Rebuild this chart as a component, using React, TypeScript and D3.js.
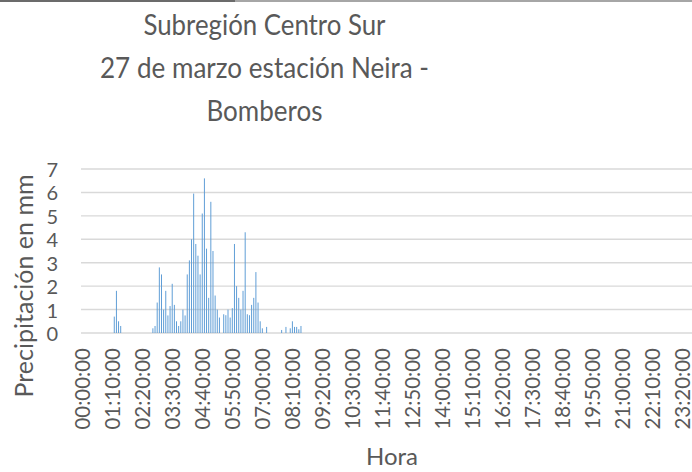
import React from "react";
import * as d3 from "d3";

const titleLines = ["Subregión Centro Sur", "27 de marzo estación Neira -", "Bomberos"];
const titleWidths = [242, 329, 116];
const yTicks = [0, 1, 2, 3, 4, 5, 6, 7];
const yAxisTitle = "Precipitación en mm";
const xAxisTitle = "Hora";

// every 5-minute category of the day
const pad = (n: number) => String(n).padStart(2, "0");
const categories: string[] = d3.range(0, 24 * 60, 5).map(
  (m) => `${pad(Math.floor(m / 60))}:${pad(m % 60)}:00`
);
const tickLabels = [
  "00:00:00", "01:10:00", "02:20:00", "03:30:00", "04:40:00", "05:50:00", "07:00:00",
  "08:10:00", "09:20:00", "10:30:00", "11:40:00", "12:50:00", "14:00:00", "15:10:00",
  "16:20:00", "17:30:00", "18:40:00", "19:50:00", "21:00:00", "22:10:00", "23:20:00",
];

// readings (mm) at times with rain; all other categories are 0
const rainTimes = [
  "01:15:00", "01:20:00", "01:25:00", "01:30:00",
  "02:45:00", "02:50:00", "02:55:00", "03:00:00", "03:05:00", "03:10:00", "03:15:00",
  "03:20:00", "03:25:00", "03:30:00", "03:35:00", "03:40:00", "03:45:00", "03:50:00",
  "03:55:00", "04:00:00", "04:05:00", "04:10:00", "04:15:00", "04:20:00", "04:25:00",
  "04:30:00", "04:35:00", "04:40:00", "04:45:00", "04:50:00", "04:55:00", "05:00:00",
  "05:05:00", "05:10:00", "05:15:00", "05:20:00", "05:30:00", "05:35:00", "05:40:00",
  "05:45:00", "05:50:00", "05:55:00", "06:00:00", "06:05:00", "06:10:00", "06:15:00",
  "06:20:00", "06:25:00", "06:30:00", "06:35:00", "06:40:00", "06:45:00", "06:50:00",
  "06:55:00", "07:00:00", "07:10:00", "07:45:00", "07:55:00", "08:05:00", "08:10:00",
  "08:15:00", "08:20:00", "08:25:00", "08:30:00",
];
const rainValues = [
  0.7, 1.8, 0.5, 0.3,
  0.2, 0.3, 1.3, 2.8, 2.5, 1.0, 1.8,
  0.75, 1.15, 2.1, 1.2, 0.5, 0.3, 0.5,
  1.0, 0.75, 2.5, 3.1, 4.0, 5.95, 3.8,
  3.3, 2.5, 5.1, 6.6, 3.6, 1.5, 5.6,
  3.5, 1.6, 1.0, 0.66, 0.8, 0.76, 1.0,
  0.66, 1.06, 3.8, 2.0, 1.5, 1.0, 1.8,
  4.3, 0.8, 0.76, 1.2, 1.5, 2.6, 1.3,
  0.5, 0.2, 0.26, 0.13, 0.26, 0.2, 0.5,
  0.26, 0.26, 0.16, 0.3,
];

const W = 692;
const H = 472;
const plotLeft = 81;
const step = 2.146;
const y0 = 333;
const y7 = 169;
const textColor = "#595959";
const font = "Lato, 'Open Sans', sans-serif";

export default function App() {
  const x = d3
    .scaleBand<string>()
    .domain(categories)
    .range([plotLeft, plotLeft + categories.length * step])
    .paddingInner(0.55)
    .paddingOuter(0.275);
  const y = d3.scaleLinear().domain([0, 7]).range([y0, y7]);
  const center = (t: string) => (x(t) as number) + x.bandwidth() / 2;

  return (
    <svg width={W} height={H} style={{ display: "block", background: "#fff" }}>
      <style>{`body{margin:0}`}</style>
      <line x1={0} x2={235} y1={1} y2={1} stroke="#6b6b6b" strokeWidth={2} />
      <line x1={235} x2={W} y1={1} y2={1} stroke="#a6a6a6" strokeWidth={2} />
      {titleLines.map((t, i) => (
        <text
          key={t}
          x={264.5}
          y={35 + i * 43}
          textAnchor="middle"
          fontFamily={font}
          fontSize={28}
          fill={textColor}
          textLength={titleWidths[i]}
          lengthAdjust="spacingAndGlyphs"
        >
          {t}
        </text>
      ))}
      {yTicks.map((v) => (
        <g key={v}>
          <line x1={plotLeft} x2={W + 20} y1={y(v)} y2={y(v)} stroke="#d9d9d9" strokeWidth={1.4} />
          <text
            x={58}
            y={y(v)}
            textAnchor="end"
            dominantBaseline="central"
            fontFamily={font}
            fontSize={20}
            fill={textColor}
          >
            {v}
          </text>
        </g>
      ))}
      {rainTimes.map((t, i) => (
        <rect
          key={t}
          x={x(t)}
          y={y(rainValues[i])}
          width={x.bandwidth()}
          height={y0 - y(rainValues[i])}
          fill="#5b9bd5"
        />
      ))}
      {tickLabels.map((t) => (
        <text
          key={t}
          transform={`translate(${center(t) - 0.5},348) rotate(-90)`}
          textAnchor="end"
          dominantBaseline="central"
          fontFamily={font}
          fontSize={20.5}
          fill={textColor}
        >
          {t}
        </text>
      ))}
      <text
        transform={`translate(23,286) rotate(-90)`}
        textAnchor="middle"
        dominantBaseline="central"
        fontFamily={font}
        fontSize={25}
        fill={textColor}
      >
        {yAxisTitle}
      </text>
      <text x={392} y={465} textAnchor="middle" fontFamily={font} fontSize={24} fill={textColor}>
        {xAxisTitle}
      </text>
    </svg>
  );
}
